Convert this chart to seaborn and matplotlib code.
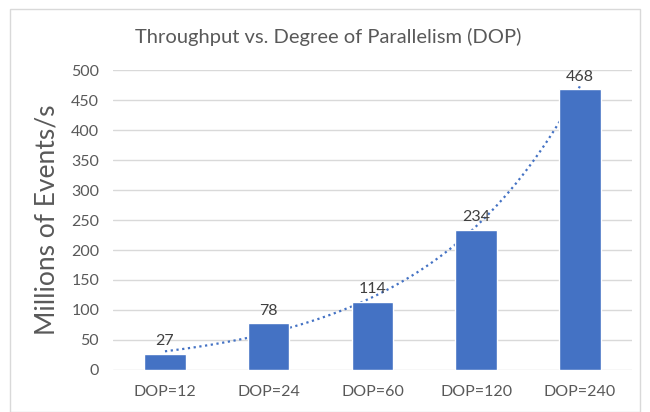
import numpy as np
import matplotlib.pyplot as plt
import matplotlib.patches as mpatches
import seaborn as sns
import pandas as pd

categories = ["DOP=12", "DOP=24", "DOP=60", "DOP=120", "DOP=240"]
throughput = [27, 78, 114, 234, 468]
yticks = [0, 50, 100, 150, 200, 250, 300, 350, 400, 450, 500]

sns.set_style("white")
plt.rcParams['font.family'] = ['Lato', 'DejaVu Sans']

df = pd.DataFrame({"dop": categories, "mev": throughput})
blue = "#4472C4"
grey = "#595959"

fig = plt.figure(figsize=(6.5, 4.12), dpi=100)
ax = fig.add_axes([0.174, 0.102, 0.798, 0.728])

sns.barplot(data=df, x="dop", y="mev", color=blue, saturation=1, width=0.4, ax=ax, zorder=3)

# exponential trendline (Excel style), fitted on the bar values
pos = np.arange(len(throughput))
k, b = np.polyfit(pos + 1, np.log(throughput), 1)
xs = np.linspace(0, len(throughput) - 1, 200)
ax.plot(xs, np.exp(b + k * (xs + 1)), linestyle=(0, (1, 1.6)), color=blue, lw=1.6, zorder=2)

for i, v in enumerate(throughput):
    ax.text(i, v + 9, str(v), ha="center", va="bottom", fontsize=11.5, color="#404040", zorder=4)

ax.set_ylim(0, 500)
ax.set_xlim(-0.5, len(categories) - 0.5)
ax.set_yticks(yticks)
ax.yaxis.grid(True, color="#D9D9D9", lw=1)
ax.set_axisbelow(True)
for s in ax.spines.values():
    s.set_visible(False)
ax.tick_params(axis="both", length=0, labelsize=11.5, labelcolor=grey, pad=10)
ax.tick_params(axis="x", pad=11)
ax.set_xlabel("")
ax.set_ylabel("Millions of Events/s", fontsize=19, color=grey, labelpad=8)
fig.text(0.505, 0.91, "Throughput vs. Degree of Parallelism (DOP)", ha="center", va="center",
         fontsize=14.5, color=grey)

fig.patches.append(mpatches.Rectangle((0.015, 0.0), 0.97, 0.978, transform=fig.transFigure,
                                      fill=False, edgecolor="#D9D9D9", lw=1))

fig.savefig("out.png", dpi=100)
